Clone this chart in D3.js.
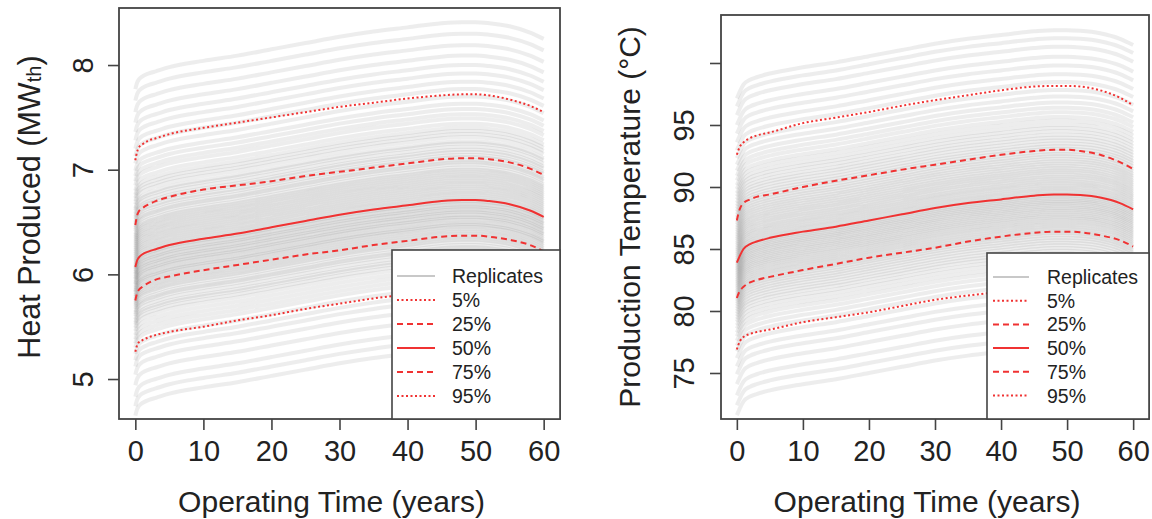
<!DOCTYPE html>
<html>
<head>
<meta charset="utf-8">
<script src="https://cdn.jsdelivr.net/npm/d3@7"></script>
<style>
  body { margin: 0; background: #fff; }
  svg { font-family: "Liberation Sans", Arial, sans-serif; display: block; }
</style>
</head>
<body>
<svg id="chart"></svg>
<script>
// time grid (years) shared by every curve
const years = [0, 0.25, 0.5, 1, 2, 3, 5, 10, 15, 20, 25, 30, 35, 40, 45, 48, 50, 52, 55, 58, 60];
const xTicks = [0, 10, 20, 30, 40, 50, 60];

// ---- heat produced panel ----
const heatShape = [-0.50, -0.44, -0.41, -0.38, -0.35, -0.33, -0.29, -0.23, -0.18, -0.12, -0.06, 0, 0.05, 0.09, 0.13, 0.14, 0.14, 0.13, 0.10, 0.04, -0.02];
// replicate level at year 30
const heatLevels = [5.15, 5.24, 5.33, 5.44, 5.54, 5.62, 5.68, 5.74, 5.80, 5.84, 5.88, 5.92, 5.96, 5.99, 6.02, 6.04, 6.07, 6.10, 6.12, 6.14, 6.17,
  6.19, 6.21, 6.23, 6.25, 6.27, 6.29, 6.31, 6.33, 6.34, 6.36, 6.38, 6.40, 6.41, 6.43, 6.45, 6.46, 6.48, 6.50, 6.51, 6.53,
  6.55, 6.56, 6.58, 6.60, 6.62, 6.64, 6.66, 6.68, 6.70, 6.72, 6.74, 6.76, 6.78, 6.80, 6.82, 6.84, 6.86, 6.88, 6.91, 6.93,
  6.95, 6.98, 7.00, 7.03, 7.05, 7.08, 7.11, 7.13, 7.17, 7.20, 7.23, 7.26, 7.30, 7.35, 7.39, 7.44, 7.49, 7.56, 7.63, 7.70,
  7.78, 7.86, 7.95, 8.05, 8.16, 8.27];
const heatP5  = [5.26, 5.32, 5.35, 5.37, 5.40, 5.42, 5.45, 5.50, 5.56, 5.61, 5.67, 5.72, 5.77, 5.81, 5.85, 5.86, 5.86, 5.85, 5.82, 5.76, 5.70];
const heatP25 = [5.75, 5.82, 5.85, 5.88, 5.92, 5.95, 5.98, 6.04, 6.09, 6.14, 6.19, 6.23, 6.28, 6.32, 6.36, 6.37, 6.37, 6.36, 6.33, 6.28, 6.22];
const heatP50 = [6.07, 6.13, 6.16, 6.19, 6.22, 6.24, 6.28, 6.34, 6.39, 6.45, 6.51, 6.57, 6.62, 6.66, 6.70, 6.71, 6.71, 6.70, 6.67, 6.61, 6.55];
const heatP75 = [6.47, 6.56, 6.60, 6.63, 6.67, 6.70, 6.74, 6.81, 6.85, 6.89, 6.94, 6.98, 7.02, 7.06, 7.10, 7.11, 7.11, 7.10, 7.07, 7.01, 6.95];
const heatP95 = [7.09, 7.17, 7.21, 7.24, 7.28, 7.30, 7.34, 7.40, 7.45, 7.50, 7.55, 7.60, 7.64, 7.68, 7.71, 7.72, 7.72, 7.71, 7.67, 7.61, 7.55];
const heatTicks = [5, 6, 7, 8];

// ---- production temperature panel ----
const tempShape = [-4.4, -4.1, -3.8, -3.3, -2.9, -2.7, -2.4, -1.9, -1.5, -1.0, -0.5, 0, 0.4, 0.7, 1.0, 1.1, 1.1, 1.05, 0.85, 0.4, -0.1];
const tempLevels = [76.0, 76.8, 77.6, 78.5, 79.3, 79.93, 80.60, 81.14, 81.59, 82.00, 82.36, 82.67, 82.99, 83.26, 83.53, 83.75, 83.98, 84.20, 84.41, 84.61, 84.81,
  85.00, 85.18, 85.35, 85.53, 85.69, 85.86, 86.02, 86.18, 86.34, 86.49, 86.64, 86.79, 86.94, 87.09, 87.23, 87.38, 87.52, 87.67, 87.80, 87.95,
  88.09, 88.23, 88.38, 88.55, 88.71, 88.88, 89.05, 89.22, 89.38, 89.56, 89.73, 89.90, 90.08, 90.25, 90.43, 90.61, 90.80, 90.98, 91.17, 91.37,
  91.56, 91.77, 91.98, 92.19, 92.41, 92.65, 92.88, 93.12, 93.39, 93.65, 93.92, 94.24, 94.55, 94.93, 95.30, 95.72, 96.20, 96.73, 97.36, 98.0,
  98.7, 99.4, 100.2, 100.9, 101.55];
const tempP5  = [76.9, 77.3, 77.6, 77.9, 78.15, 78.3, 78.5, 79.1, 79.5, 79.9, 80.4, 80.9, 81.25, 81.55, 81.8, 81.9, 81.9, 81.85, 81.6, 81.2, 80.8];
const tempP25 = [81.05, 81.4, 81.65, 81.95, 82.3, 82.5, 82.75, 83.3, 83.8, 84.3, 84.7, 85.1, 85.6, 86.0, 86.3, 86.4, 86.4, 86.35, 86.1, 85.7, 85.2];
const tempP50 = [83.9, 84.2, 84.5, 85.0, 85.4, 85.6, 85.9, 86.4, 86.8, 87.3, 87.8, 88.3, 88.7, 89.0, 89.3, 89.4, 89.4, 89.35, 89.15, 88.7, 88.2];
const tempP75 = [87.3, 87.9, 88.3, 88.7, 89.0, 89.2, 89.4, 90.0, 90.5, 90.95, 91.4, 91.8, 92.2, 92.6, 92.9, 93.0, 93.0, 92.9, 92.6, 92.0, 91.45];
const tempP95 = [92.6, 93.0, 93.3, 93.6, 93.95, 94.15, 94.4, 95.15, 95.6, 96.05, 96.55, 97.0, 97.4, 97.8, 98.1, 98.15, 98.15, 98.1, 97.8, 97.2, 96.6];
const tempTicks = [75, 80, 85, 90, 95, 100];
const tempTickLabels = ["75", "80", "85", "90", "95", ""];

const legendLabels = ["Replicates", "5%", "25%", "50%", "75%", "95%"];

const width = 1152;
const height = 519;
const red = "#f03232";
const dash = { solid: null, dashed: "6,4", dotted: "2,2.5" };
const legendStyles = ["rep", "dotted", "dashed", "solid", "dashed", "dotted"];

const svg = d3.select("#chart").attr("width", width).attr("height", height);

const drawPanel = (p) => {
    const x = d3.scaleLinear().domain([-2.4, 62.4]).range([p.left, p.right]);
    const y = d3.scaleLinear().domain(p.yDomain).range([p.bottom, p.top]);
    const g = svg.append("g");

    const line = d3.line()
        .x(d => x(d[0]))
        .y(d => y(d[1]))
        .curve(d3.curveMonotoneX);

    // replicates
    g.append("g").selectAll("path")
        .data(p.levels)
        .enter()
        .append("path")
        .attr("d", lvl => line(years.map((t, i) => [t, lvl + p.shape[i]])))
        .attr("fill", "none")
        .attr("stroke", "#6a6a6a")
        .attr("stroke-opacity", 0.12)
        .attr("stroke-width", 4);

    // quantiles
    const qs = [[p.q5, "dotted"], [p.q25, "dashed"], [p.q50, "solid"], [p.q75, "dashed"], [p.q95, "dotted"]];
    qs.forEach(([vals, s]) => {
        g.append("path")
            .attr("d", line(years.map((t, i) => [t, vals[i]])))
            .attr("fill", "none")
            .attr("stroke", red)
            .attr("stroke-width", 2)
            .attr("stroke-dasharray", dash[s]);
    });

    // x axis ticks hanging below the box
    const xa = g.append("g").attr("transform", `translate(0,${p.bottom})`)
        .call(d3.axisBottom(x).tickValues(xTicks).tickSize(11).tickPadding(10).tickFormat(d3.format("d")));
    xa.select(".domain").remove();
    xa.selectAll("line").attr("stroke", "#444").attr("stroke-width", 1.6);
    xa.selectAll("text").attr("font-size", 29).attr("fill", "#222").attr("font-family", "Liberation Sans, Arial, sans-serif");

    // y axis with rotated labels
    const ya = g.append("g").attr("transform", `translate(${p.left},0)`)
        .call(d3.axisLeft(y).tickValues(p.yTicks).tickSize(11).tickFormat((d, i) => p.yLabels[i]));
    ya.select(".domain").remove();
    ya.selectAll("line").attr("stroke", "#444").attr("stroke-width", 1.6);
    ya.selectAll("text")
        .attr("x", null).attr("dy", null)
        .attr("text-anchor", "middle")
        .attr("dominant-baseline", "central")
        .attr("transform", `translate(${p.yLabelX - p.left},0) rotate(-90)`)
        .attr("font-size", 29).attr("fill", "#222")
        .attr("font-family", "Liberation Sans, Arial, sans-serif");

    // box
    g.append("rect")
        .attr("x", p.left).attr("y", p.top)
        .attr("width", p.right - p.left).attr("height", p.bottom - p.top)
        .attr("fill", "none").attr("stroke", "#444").attr("stroke-width", 1.8);

    // titles
    g.append("text")
        .attr("x", (p.left + p.right) / 2 - 8).attr("y", 501)
        .attr("text-anchor", "middle").attr("dominant-baseline", "central")
        .attr("font-size", 30).attr("fill", "#222")
        .text("Operating Time (years)");
    const yt = g.append("text")
        .attr("transform", `translate(${p.yTitleX},${p.yTitleY}) rotate(-90)`)
        .attr("text-anchor", "middle").attr("dominant-baseline", "central")
        .attr("font-size", p.yTitleSize).attr("fill", "#222");
    p.yTitle.forEach(([txt, sub]) => {
        const ts = yt.append("tspan").text(txt);
        if (sub) ts.attr("font-size", p.yTitleSize * 0.66).attr("baseline-shift", "-25%");
    });

    // legend
    const lg = g.append("g");
    lg.append("rect")
        .attr("x", p.legLeft).attr("y", p.legTop)
        .attr("width", p.right - p.legLeft).attr("height", p.bottom - p.legTop)
        .attr("fill", "#fff").attr("stroke", "#444").attr("stroke-width", 1.6);
    legendLabels.forEach((lab, i) => {
        const yy = p.legRow0 + i * p.legStep;
        const st = legendStyles[i];
        lg.append("line")
            .attr("x1", p.legLine[0]).attr("x2", p.legLine[1])
            .attr("y1", yy).attr("y2", yy)
            .attr("stroke", st === "rep" ? "#c8c8c8" : red)
            .attr("stroke-width", 2)
            .attr("stroke-dasharray", st === "rep" ? null : dash[st]);
        lg.append("text")
            .attr("x", p.legText).attr("y", yy)
            .attr("dominant-baseline", "central")
            .attr("font-size", 19.5).attr("fill", "#222")
            .text(lab);
    });
};

drawPanel({
    left: 119, right: 560, top: 8, bottom: 419,
    yDomain: [4.618, 8.545],
    levels: heatLevels, shape: heatShape,
    q5: heatP5, q25: heatP25, q50: heatP50, q75: heatP75, q95: heatP95,
    yTicks: heatTicks, yLabels: heatTicks.map(String),
    yLabelX: 83, yTitleX: 29, yTitleY: 207, yTitleSize: 30.5,
    yTitle: [["Heat Produced (MW"], ["th", true], [")"]],
    legLeft: 392, legTop: 250, legLine: [397, 435], legText: 452, legRow0: 276, legStep: 24
});

drawPanel({
    left: 721, right: 1149, top: 15, bottom: 419,
    yDomain: [71.29, 103.87],
    levels: tempLevels, shape: tempShape,
    q5: tempP5, q25: tempP25, q50: tempP50, q75: tempP75, q95: tempP95,
    yTicks: tempTicks, yLabels: tempTickLabels,
    yLabelX: 684, yTitleX: 629, yTitleY: 217, yTitleSize: 30,
    yTitle: [["Production Temperature (°C)"]],
    legLeft: 987, legTop: 253, legLine: [993, 1029], legText: 1047, legRow0: 277, legStep: 23.7
});
</script>
</body>
</html>
